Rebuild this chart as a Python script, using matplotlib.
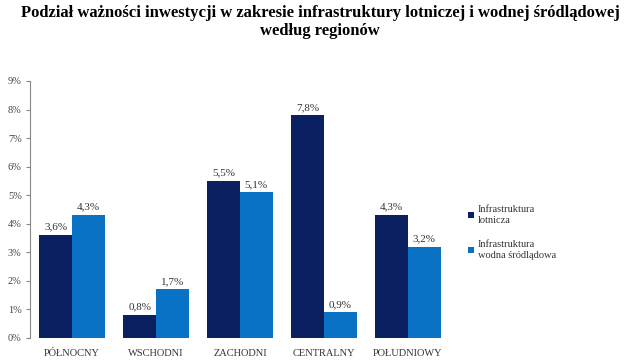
import numpy as np
import matplotlib
matplotlib.use("Agg")
import matplotlib.pyplot as plt

plt.rcParams["font.family"] = ["Liberation Serif", "DejaVu Serif"]

regiony = ["PÓŁNOCNY", "WSCHODNI", "ZACHODNI", "CENTRALNY", "POŁUDNIOWY"]
lotnicza = [3.6, 0.8, 5.5, 7.8, 4.3]
wodna = [4.3, 1.7, 5.1, 0.9, 3.2]
serie = ["Infrastruktura\nlotnicza", "Infrastruktura\nwodna śródlądowa"]
kolory = ["#0b2060", "#0a72c4"]

fig = plt.figure(figsize=(6.4, 3.63), dpi=100)
ax = fig.add_axes([0.047, 0.069, 0.656, 0.708])

x = np.arange(len(regiony))
w = 0.39
b1 = ax.bar(x - w / 2, lotnicza, w, color=kolory[0], label=serie[0])
b2 = ax.bar(x + w / 2, wodna, w, color=kolory[1], label=serie[1])

for bars, vals in [(b1, lotnicza), (b2, wodna)]:
    for b, v in zip(bars, vals):
        ax.text(b.get_x() + b.get_width() / 2, v + 0.12, f"{v:.1f}%".replace(".", ","),
                ha="center", va="bottom", fontsize=8, color="#333333")

ax.set_xlim(-0.5, len(regiony) - 0.5)
ax.set_ylim(0, 9)
ax.set_yticks(range(10))
ax.set_yticklabels([f"{i}%" for i in range(10)], fontsize=7.5, color="#444444")
ax.set_xticks(x)
ax.set_xticklabels(regiony, fontsize=7.5, color="#333333")
ax.tick_params(axis="x", length=0, pad=8)
ax.tick_params(axis="y", length=3, color="#888888", pad=3)
for s in ["top", "right", "bottom"]:
    ax.spines[s].set_visible(False)
ax.spines["left"].set_color("#888888")

ax.legend(loc="center left", bbox_to_anchor=(1.02, 0.41), frameon=False,
          fontsize=7.5, handlelength=0.6, handleheight=0.6, labelspacing=1.5,
          handletextpad=0.4, labelcolor="#333333")

fig.suptitle("Podział ważności inwestycji w zakresie infrastruktury lotniczej i wodnej śródlądowej\nwedług regionów",
             fontsize=12, fontweight="bold", x=0.5, y=0.985, linespacing=1.1)

fig.savefig("out.png", dpi=100)
